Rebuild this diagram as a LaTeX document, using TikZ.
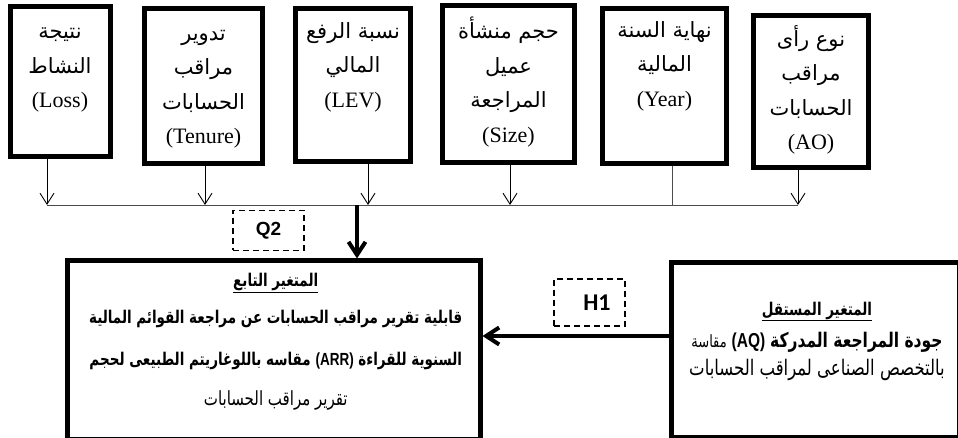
\documentclass[tikz,border=0pt]{standalone}
\usepackage{fontspec}
\setmainfont{Liberation Serif}
\newfontfamily\arabicfont[Script=Arabic]{DejaVu Sans}
\newfontfamily\latsans{Liberation Sans}
\newfontfamily\calfont{Carlito}
\TeXXeTstate=1
\usetikzlibrary{arrows.meta,positioning}

% arabic line, right to left
\newcommand{\ar}[1]{{\arabicfont\fontsize{21pt}{34.5pt}\selectfont\beginR #1\endR}}
\newcommand{\arb}[1]{{\arabicfont\bfseries\beginR #1\endR}}
% taller body lines
\newcommand{\tall}[1]{\scalebox{1}[1.3]{#1}}

\tikzset{
  varbox/.style={draw, line width=5pt, inner sep=0pt},
  vartext/.style={align=center, inner sep=0pt, anchor=north,
    font=\fontsize{22pt}{34.5pt}\selectfont},
  feed/.style={-{Straight Barb[length=11pt,width=14pt]}, line width=0.9pt},
  busline/.style={line width=0.9pt, black!70},
  bigarrow/.style={-{Straight Barb[length=13pt,width=17pt]}, line width=4pt},
  hypbox/.style={draw, line width=1.8pt, dash pattern=on 6pt off 4pt, inner sep=0pt},
  bodyline/.style={inner sep=0pt, anchor=base,
    font=\arabicfont\fontsize{13.5pt}{16pt}\selectfont}
}

\begin{document}
\begin{tikzpicture}[x=1pt, y=-1pt]
\useasboundingbox (0,0) rectangle (958,438);
\clip (0,0) rectangle (958,438);

% control variables
\node[varbox, minimum width=100pt, minimum height=150pt] (loss) at (60,81.5) {};
\node[varbox, minimum width=118pt, minimum height=155pt] (tenure) at (203.5,86) {};
\node[varbox, minimum width=115pt, minimum height=153pt] (lev) at (353,85) {};
\node[varbox, minimum width=132pt, minimum height=157pt] (size) at (508.5,84) {};
\node[varbox, minimum width=124pt, minimum height=155pt] (year) at (664.5,86) {};
\node[varbox, minimum width=115pt, minimum height=152pt] (ao) at (811,91.5) {};

\node[vartext] (losstext) at ([yshift=-24pt]loss.north) {\ar{نتيجة}\\\ar{النشاط}\\(Loss)};
\node[vartext] (tenuretext) at ([yshift=-24pt]tenure.north) {\ar{تدوير}\\\ar{مراقب}\\\ar{الحسابات}\\(Tenure)};
\node[vartext] (levtext) at ([yshift=-16pt]lev.north) {\ar{نسبة الرفع}\\\ar{المالي}\\(LEV)};
\node[vartext] (sizetext) at ([yshift=-14pt]size.north) {\ar{حجم منشأة}\\\ar{عميل}\\\ar{المراجعة}\\(Size)};
\node[vartext] (yeartext) at ([yshift=-15pt]year.north) {\ar{نهاية السنة}\\\ar{المالية}\\(Year)};
\node[vartext] (aotext) at ([yshift=-12pt]ao.north) {\ar{نوع رأى}\\\ar{مراقب}\\\ar{الحسابات}\\(AO)};

% collecting line
\coordinate (busW) at (47,205);
\coordinate (busE) at (798,205);
\draw[busline] (busW) -- (busE);
\draw[feed] ([xshift=-13pt]loss.south) -- ([xshift=-13pt]loss.south |- busW);
\draw[feed] ([xshift=1.5pt]tenure.south) -- ([xshift=1.5pt]tenure.south |- busW);
\draw[feed] ([xshift=15pt]lev.south) -- ([xshift=15pt]lev.south |- busW);
\draw[feed] ([xshift=1.5pt]size.south) -- ([xshift=1.5pt]size.south |- busW);
\draw[busline] ([xshift=7.5pt]year.south) -- ([xshift=7.5pt]year.south |- busW);
\draw[feed] ([xshift=-13pt]ao.south) -- ([xshift=-13pt]ao.south |- busW);

% dependent and independent variables
\node[varbox, minimum width=412.5pt, minimum height=178.5pt] (dep) at (273.75,350.25) {};
\node[varbox, minimum width=288pt, minimum height=175pt] (indep) at (815.5,350) {};

\node[bodyline] (deptitle) at ([xshift=2pt,yshift=-28.5pt]dep.north) {\underline{\tall{\arb{المتغير التابع}}}};
\node[bodyline] (depline1) at ([xshift=2pt,yshift=-64.5pt]dep.north) {\tall{\arb{قابلية تقرير مراقب الحسابات عن مراجعة القوائم المالية}}};
\node[bodyline, font=\arabicfont\bfseries\fontsize{13.5pt}{16pt}\selectfont] (depline2) at ([xshift=2pt,yshift=-106.5pt]dep.north)
  {\tall{\beginR السنوية للقراءة {\latsans\beginL(ARR)\endL} مقاسه باللوغاريتم الطبيعى لحجم\endR}};
\node[bodyline, font=\arabicfont\fontsize{15pt}{16pt}\selectfont] (depline3) at ([xshift=2pt,yshift=-146.5pt]dep.north)
  {\tall{\beginR تقرير مراقب الحسابات\endR}};

\node[bodyline] (indeptitle) at ([xshift=1.5pt,yshift=-55pt]indep.north) {\underline{\tall{\arb{المتغير المستقل}}}};
\node[bodyline, font=\arabicfont\fontsize{15.5pt}{16pt}\selectfont] (indepline1) at ([xshift=1.5pt,yshift=-87pt]indep.north)
  {\tall{\beginR{\bfseries جودة المراجعة المدركة} {\latsans\bfseries\beginL(AQ)\endL} {\fontsize{13pt}{16pt}\selectfont مقاسة}\endR}};
\node[bodyline, font=\arabicfont\fontsize{16.5pt}{16pt}\selectfont] (indepline2) at ([xshift=1.5pt,yshift=-115pt]indep.north)
  {\tall{\beginR بالتخصص الصناعى لمراقب الحسابات\endR}};

% hypotheses
\coordinate (drop) at (357,205);
\draw[bigarrow] (drop) -- (drop |- dep.north);
\draw[bigarrow] ([yshift=14pt]indep.west) -- ([yshift=14pt]indep.west -| dep.east);
\node[hypbox, minimum width=71pt, minimum height=40pt, font=\latsans\bfseries\fontsize{19pt}{22pt}\selectfont] (q2) at (268.5,230.5) {Q2};
\node[hypbox, minimum width=71pt, minimum height=47pt, font=\calfont\bfseries\fontsize{24pt}{26pt}\selectfont] (h1) at (589.5,302.5) {\hspace*{15pt}H1};
\end{tikzpicture}
\end{document}
